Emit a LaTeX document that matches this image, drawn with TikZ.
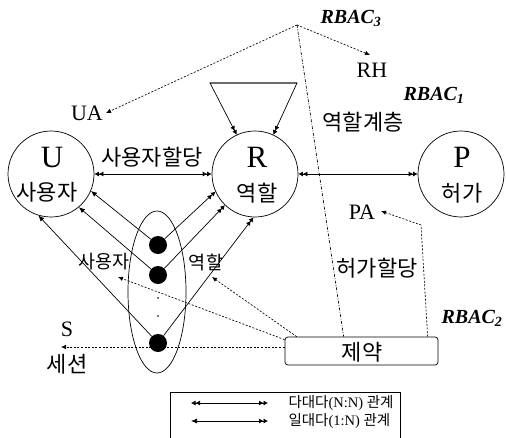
\documentclass[tikz,border=0pt]{standalone}
\usepackage{fontspec}
\setmainfont{Liberation Serif}
\newfontfamily\kr{Noto Sans CJK KR}
\usetikzlibrary{arrows.meta,shapes.geometric,calc}
\tikzset{
  DD/.tip={Latex[length=4.5pt,width=5pt] Latex[length=4.5pt,width=5pt]},
  SG/.tip={Latex[length=6pt,width=5pt]},
  DT/.tip={Latex[length=5pt,width=4.5pt]},
  circ/.style={circle,draw,line width=0.7pt,minimum size=86pt,inner sep=0pt},
  big/.style={font=\fontsize{31}{33}\selectfont},
  lat/.style={font=\fontsize{22}{24}\selectfont},
  kor/.style={font=\kr\fontsize{22}{24}\selectfont},
  kors/.style={font=\kr\fontsize{18.5}{20}\selectfont},
  rb/.style={font=\fontsize{20}{22}\selectfont\bfseries\itshape},
  rel/.style={line width=0.7pt},
  dotl/.style={line width=0.65pt,dash pattern=on 2pt off 1.6pt},
  dashdot/.style={line width=0.65pt,dash pattern=on 3pt off 1.5pt on 0.8pt off 1.5pt},
  dot/.style={circle,fill,inner sep=0pt,minimum size=18pt},
  tiny/.style={circle,fill,inner sep=0pt,minimum size=1.8pt},
}
\begin{document}
\begin{tikzpicture}[x=1pt,y=-1pt]
\useasboundingbox (0,0) rectangle (506,437);
\clip (0,0) rectangle (506,437);
% circles
\node[circ] (U) at (51,174) {};
\node[circ] (R) at (255,174) {};
\node[circ] (P) at (461,174) {};
\node[big] (Ut) at (52,157) {U};
\node[kor] (Uk) at (47,192) {사용자};
\node[big] (Rt) at (257,157) {R};
\node[kor] (Rk) at (257,193) {역할};
\node[big] (Pt) at (462,157) {P};
\node[kor] (Pk) at (462,193) {허가};
% relations
\draw[rel,DD-DD] (U.east) -- (R.west);
\draw[rel,DD-DD] (R.east) -- (P.west);
\node[kor] (UAk) at (152,157) {사용자할당};
% role hierarchy loop
\coordinate (T1) at (210,83);
\coordinate (T2) at (297,83);
\draw[rel,-DD] (T2) -- (T1) -- (R.115);
\draw[rel,-DD] (T1) -- (T2) -- (R.65);
% session ellipse
\node[ellipse,draw,line width=0.7pt,minimum width=58pt,minimum height=162pt,inner sep=0pt] (E) at (157,292) {};
\node[dot] (d1) at (158,245) {};
\node[dot] (d2) at (158,275) {};
\node[dot] (d3) at (158,343) {};
\node[tiny] (t1) at (158,298) {};
\node[tiny] (t2) at (158,316) {};
\draw[rel,-SG] (d1) -- (U.-23);
\draw[rel,-SG] (d2) -- (U.-50);
\draw[rel,-SG] (d3) -- (U.-107);
\draw[rel,-DD] (d1) -- (R.-156);
\draw[rel,-DD] (d2) -- (R.-134);
\draw[rel,-DD] (d3) -- (R.-92);
\node[kors] (us) at (104,262) {사용자};
\node[kors] (ro) at (206,262) {역할};
\node[lat] (S) at (67,329) {S};
\node[kor] (Sk) at (67,364) {세션};
% constraint box
\node[draw,rounded corners=3pt,line width=0.7pt,minimum width=153pt,minimum height=28pt,inner sep=0pt] (C) at (361.5,351) {};
\node[kor] (Ck) at (362,352) {제약};
% labels
\node[lat] (UA) at (87,113) {UA};
\node[lat] (RH) at (372,70) {RH};
\node[lat] (PA) at (362,212) {PA};
\node[kor] (RHk) at (363,122) {역할계층};
\node[kor] (PAk) at (377,268) {허가할당};
\node[rb] (R3) at (351,18) {RBAC\textsubscript{3}};
\node[rb] (R1) at (434,95) {RBAC\textsubscript{1}};
\node[rb] (R2) at (472,318) {RBAC\textsubscript{2}};
% dotted connectors
\coordinate (V) at (297,25);
\coordinate (UAtip) at (106,113);
\coordinate (RHtip) at (370,55);
\coordinate (rotip) at (212,277);
\coordinate (ustip) at (118,277);
\coordinate (Stip) at (61,347);
\coordinate (PAtip) at (381,211);
\draw[dotl,-DT] (V) -- (UAtip);
\draw[dotl,-DT] (V) -- (RHtip);
\draw[dashdot] (V) -- ($(C.north west)+(59,0)$);
\draw[dotl,-DT] ($(C.north west)+(12,0)$) -- (rotip);
\draw[dotl,-DT] ($(C.north west)+(0,3)$) -- (ustip);
\draw[dotl,-DT] ($(C.west)+(0,-4)$) -- (Stip);
\coordinate (K) at (421,225);
\draw[dotl,-DT] ($(C.north west)+(143,0)$) -- (K) -- (PAtip);
% legend
\node[draw,line width=0.7pt,minimum width=230pt,minimum height=60pt,inner sep=0pt] (L) at (285,422) {};
\coordinate (a1) at (191,403);
\coordinate (b1) at (268,403);
\coordinate (a2) at (191,421);
\coordinate (b2) at (268,421);
\draw[rel,DD-DD] (a1) -- (b1);
\draw[rel,SG-DD] (a2) -- (b2);
\node[anchor=west,font=\fontsize{14.5}{16}\selectfont] (l1) at (285,403) {{\kr 다대다}(N:N) {\kr 관계}};
\node[anchor=west,font=\fontsize{14.5}{16}\selectfont] (l2) at (285,421) {{\kr 일대다}(1:N) {\kr 관계}};
\end{tikzpicture}
\end{document}
